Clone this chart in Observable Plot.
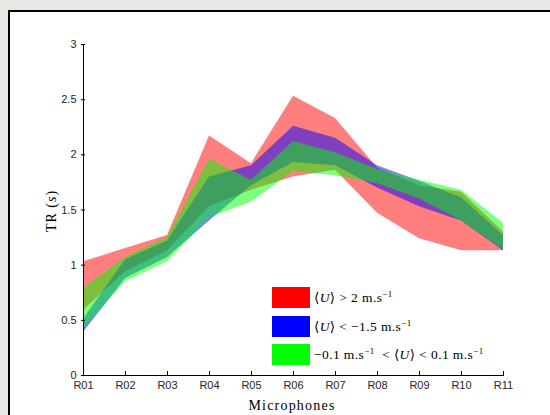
<!DOCTYPE html>
<html><head><meta charset="utf-8">
<script src="https://cdn.jsdelivr.net/npm/d3@7"></script>
<script src="https://cdn.jsdelivr.net/npm/@observablehq/plot@0.6"></script>
<style>
html,body{margin:0;padding:0;}
body{width:550px;height:415px;background:#e8e7e4;position:relative;overflow:hidden;}
#panel{position:absolute;left:8px;top:10px;width:545px;height:410px;background:#fff;border-left:2px solid #000;border-top:2px solid #000;}
#chart{position:absolute;left:0;top:0;}
.serif{position:absolute;font-family:"Liberation Serif","DejaVu Serif",serif;color:#000;white-space:nowrap;}
#ylab{left:52px;top:211px;font-size:14px;letter-spacing:1px;transform:translate(-50%,-50%) rotate(-90deg);}
#xlab{left:292px;top:398px;font-size:14px;letter-spacing:1.2px;transform:translateX(-50%);}
.sw{position:absolute;width:38px;height:21px;}
.lt{font-size:13.5px;letter-spacing:0.4px;}
.lt sup{font-size:9px;vertical-align:5px;line-height:0;}
</style></head>
<body>
<div id="panel"></div>
<div id="chart"></div>
<div id="ylab" class="serif">TR (<i>s</i>)</div>
<div id="xlab" class="serif">Microphones</div>
<div id="legend"></div>
<script>
const mics = ["R01","R02","R03","R04","R05","R06","R07","R08","R09","R10","R11"];
const redLow    = [0.59, 0.94, 1.13, 1.53, 1.68, 1.80, 1.86, 1.47, 1.24, 1.13, 1.13];
const redHigh   = [1.03, 1.15, 1.27, 2.17, 1.92, 2.53, 2.33, 1.88, 1.72, 1.66, 1.30];
const blueLow   = [0.39, 0.88, 1.07, 1.40, 1.72, 1.93, 1.90, 1.70, 1.53, 1.40, 1.13];
const blueHigh  = [0.51, 1.05, 1.22, 1.80, 1.90, 2.26, 2.15, 1.90, 1.76, 1.61, 1.27];
const greenLow  = [0.42, 0.85, 1.03, 1.43, 1.57, 1.85, 1.81, 1.74, 1.60, 1.40, 1.14];
const greenHigh = [0.79, 1.07, 1.25, 1.96, 1.77, 2.12, 2.02, 1.87, 1.77, 1.68, 1.38];
const yTicks = [0, 0.5, 1, 1.5, 2, 2.5, 3];
const seriesColors = ["#ff0000", "#0000ff", "#00ff00"];
const legendLabels = [
  "⟨<i>U</i>⟩ &gt; 2 m.s<sup>−1</sup>",
  "⟨<i>U</i>⟩ &lt; −1.5 m.s<sup>−1</sup>",
  "−0.1 m.s<sup>−1</sup> &nbsp;&lt; ⟨<i>U</i>⟩ &lt; 0.1 m.s<sup>−1</sup>"
];

const band = (lo, hi) => mics.map((m, i) => ({mic: m, lo: lo[i], hi: hi[i]}));
const bands = [band(redLow, redHigh), band(blueLow, blueHigh), band(greenLow, greenHigh)];

const chart = Plot.plot({
  width: 550, height: 415,
  marginLeft: 81, marginRight: 46, marginTop: 44, marginBottom: 40,
  style: {background: "transparent", fontFamily: "'Liberation Sans', Arial, sans-serif", fontSize: "11px", overflow: "visible"},
  x: {type: "point", domain: mics, padding: 0},
  y: {domain: [0, 3]},
  marks: [
    ...bands.map((b, k) => Plot.areaY(b, {x: "mic", y1: "lo", y2: "hi", fill: seriesColors[k], fillOpacity: 0.5, curve: "linear"})),
    Plot.ruleY([0], {stroke: "#000"}),
    Plot.ruleX([mics[0]], {stroke: "#000"}),
    Plot.axisY({ticks: yTicks, tickFormat: d => String(d), tickSize: -4, tickPadding: 9, stroke: "#000", fill: "#262626", label: null}),
    Plot.axisX({tickSize: -4, tickPadding: 10, stroke: "#000", fill: "#262626", label: null})
  ]
});
document.getElementById("chart").appendChild(chart);

const leg = document.getElementById("legend");
const tops = [287, 316, 344];
legendLabels.forEach((t, k) => {
  const s = document.createElement("div");
  s.className = "sw";
  s.style.left = "272px"; s.style.top = tops[k] + "px"; s.style.background = seriesColors[k];
  leg.appendChild(s);
  const l = document.createElement("div");
  l.className = "serif lt";
  l.style.left = "314px"; l.style.top = (tops[k] + 2) + "px";
  l.innerHTML = t;
  leg.appendChild(l);
});
</script>
</body></html>
